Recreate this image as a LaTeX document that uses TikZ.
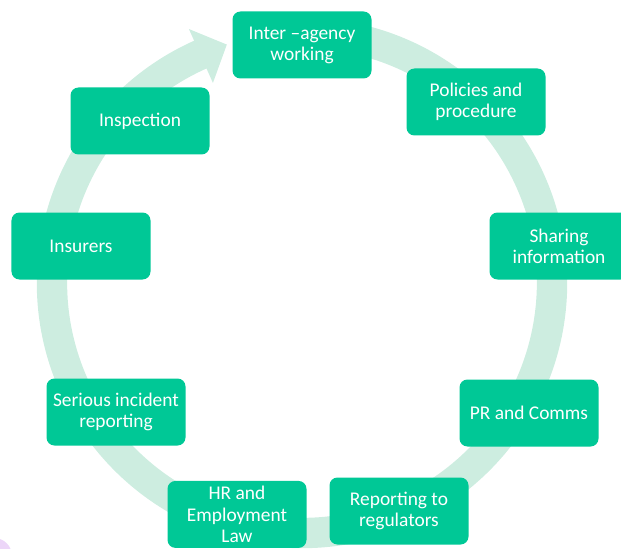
\documentclass[tikz,border=0pt]{standalone}
\usepackage{fontspec}
\setmainfont{Carlito}

\definecolor{boxgreen}{RGB}{0,200,150}
\definecolor{ringgreen}{RGB}{205,237,224}
\definecolor{lilac}{RGB}{236,214,248}

\tikzset{
    stage/.style={fill=boxgreen, text=white, rounded corners=0.2cm, minimum width=3.475cm,
        minimum height=1.675cm, align=center, inner sep=2pt, font=\fontsize{13.8}{15}\selectfont}
}

\begin{document}
\begin{tikzpicture}
    \useasboundingbox (0,0) rectangle (15.525,13.7);
    \fill[lilac] (-0.15,-0.2) circle (0.45);

    % the cycle arrow, clockwise from the top
    \begin{scope}[shift={(7.55,6.625)}]
    \fill[ringgreen] (90:6.63) arc[start angle=90, end angle=-246, radius=6.63]
        -- (-246:6.95) -- (-252.5:6.25) -- (-246:5.475)
        -- (-246:5.87) arc[start angle=-246, end angle=90, radius=5.87] -- cycle;
    \end{scope}

    \node[stage] (agency) at (7.55,12.575) {Inter –agency\\working};
    \node[stage] (policies) at (11.9,11.15) {Policies and\\procedure};
    \node[stage] (sharing) at (13.975,7.55) {Sharing\\information};
    \node[stage] (comms) at (13.225,3.375) {PR and Comms};
    \node[stage] (regulators) at (9.975,0.925) {Reporting to\\regulators};
    \node[stage] (hrlaw) at (5.925,0.84) {HR and\\Employment\\Law};
    \node[stage] (incident) at (2.9,3.4) {Serious incident\\reporting};
    \node[stage] (insurers) at (2.025,7.55) {Insurers};
    \node[stage] (inspection) at (3.5,10.675) {Inspection};
\end{tikzpicture}
\end{document}
